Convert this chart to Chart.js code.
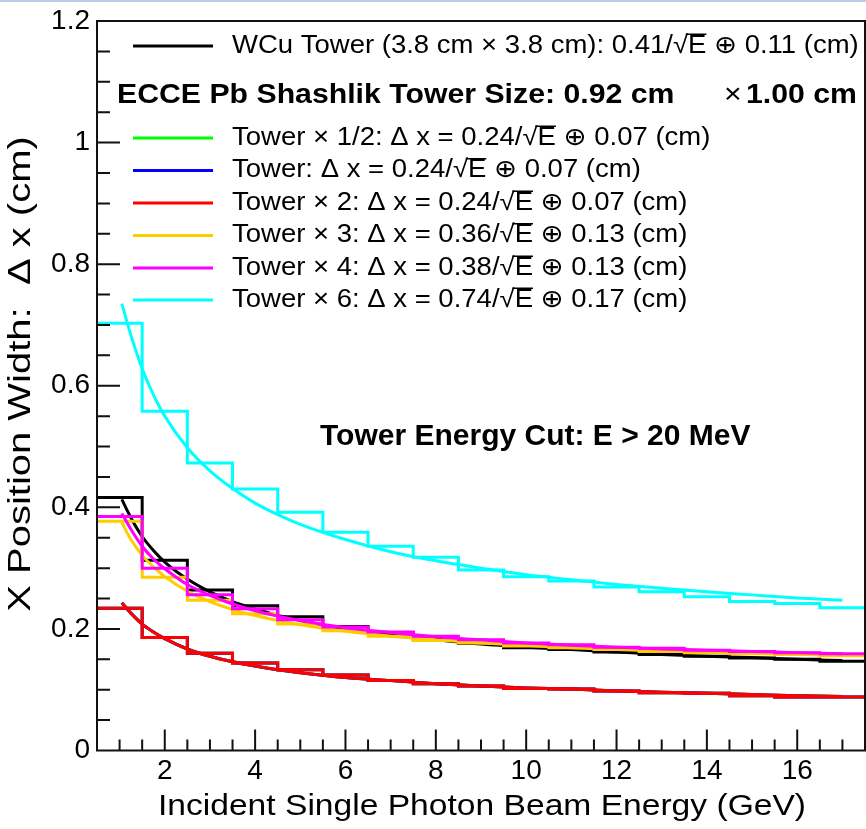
<!DOCTYPE html>
<html>
<head>
<meta charset="utf-8">
<script src="https://cdn.jsdelivr.net/npm/chart.js@4.4.0/dist/chart.umd.min.js"></script>
<style>
  html, body { margin: 0; padding: 0; background: #fff; }
</style>
</head>
<body>
<canvas id="myChart" width="866" height="829"></canvas>
<script>
// bin centres of the energy histograms (GeV), bins are 1 GeV wide
const binCenters = [1, 2, 3, 4, 5, 6, 7, 8, 9, 10, 11, 12, 13, 14, 15, 16, 17];

// histogram contents (cm)
const histWCu     = [0.416, 0.313, 0.264, 0.238, 0.220, 0.204, 0.194, 0.183, 0.176, 0.169, 0.166, 0.162, 0.158, 0.155, 0.152, 0.150, 0.147];
const histHalf    = [0.234, 0.186, 0.160, 0.144, 0.133, 0.124, 0.115, 0.110, 0.106, 0.102, 0.101, 0.098, 0.095, 0.094, 0.090, 0.088, 0.088];
const histTower   = [0.234, 0.186, 0.160, 0.144, 0.133, 0.124, 0.115, 0.110, 0.106, 0.102, 0.101, 0.098, 0.095, 0.094, 0.090, 0.088, 0.088];
const histTimes2  = [0.234, 0.186, 0.160, 0.144, 0.133, 0.124, 0.115, 0.110, 0.106, 0.102, 0.101, 0.098, 0.095, 0.094, 0.090, 0.088, 0.088];
const histTimes3  = [0.377, 0.285, 0.247, 0.225, 0.208, 0.197, 0.188, 0.181, 0.177, 0.172, 0.169, 0.166, 0.163, 0.161, 0.159, 0.158, 0.156];
const histTimes4  = [0.385, 0.300, 0.256, 0.233, 0.215, 0.203, 0.195, 0.188, 0.182, 0.177, 0.174, 0.170, 0.168, 0.165, 0.163, 0.161, 0.159];
const histTimes6  = [0.703, 0.558, 0.473, 0.430, 0.392, 0.359, 0.336, 0.318, 0.297, 0.286, 0.279, 0.269, 0.261, 0.253, 0.245, 0.242, 0.235];

// fit curves, sampled off the plot
const fitEnergy  = [1.05, 1.25, 1.5, 1.75, 2, 2.5, 3, 3.5, 4, 4.5, 5, 6, 7, 8, 9, 10, 11, 12, 13, 14, 15, 16, 17];
const fitWCu     = [0.413, 0.383, 0.352, 0.329, 0.310, 0.282, 0.261, 0.245, 0.233, 0.222, 0.214, 0.200, 0.190, 0.182, 0.175, 0.170, 0.166, 0.162, 0.158, 0.155, 0.153, 0.150, 0.148];
const fitHalf    = [0.243, 0.226, 0.208, 0.195, 0.184, 0.167, 0.155, 0.146, 0.139, 0.133, 0.128, 0.120, 0.115, 0.110, 0.106, 0.103, 0.101, 0.098, 0.096, 0.094, 0.092, 0.090, 0.089];
const fitTower   = [0.243, 0.226, 0.208, 0.195, 0.184, 0.167, 0.155, 0.146, 0.139, 0.133, 0.128, 0.120, 0.115, 0.110, 0.106, 0.103, 0.101, 0.098, 0.096, 0.094, 0.092, 0.090, 0.089];
const fitTimes2  = [0.243, 0.226, 0.208, 0.195, 0.184, 0.167, 0.155, 0.146, 0.139, 0.133, 0.128, 0.120, 0.115, 0.110, 0.106, 0.103, 0.101, 0.098, 0.096, 0.094, 0.092, 0.090, 0.089];
const fitTimes3  = [0.375, 0.347, 0.321, 0.302, 0.286, 0.262, 0.245, 0.232, 0.222, 0.214, 0.207, 0.196, 0.188, 0.182, 0.177, 0.173, 0.169, 0.166, 0.164, 0.162, 0.160, 0.158, 0.157];
const fitTimes4  = [0.390, 0.364, 0.336, 0.315, 0.299, 0.273, 0.255, 0.241, 0.230, 0.221, 0.214, 0.202, 0.194, 0.187, 0.182, 0.177, 0.173, 0.170, 0.167, 0.165, 0.163, 0.161, 0.159];
const fitTimes6  = [0.735, 0.683, 0.628, 0.585, 0.550, 0.498, 0.460, 0.431, 0.407, 0.388, 0.372, 0.347, 0.327, 0.312, 0.300, 0.289, 0.281, 0.273, 0.267, 0.261, 0.256, 0.251, 0.247];

// axes
const xTickValues = [2, 4, 6, 8, 10, 12, 14, 16];
const yTickValues = [0, 0.2, 0.4, 0.6, 0.8, 1.0, 1.2];
const yTickLabels = ['0', '0.2', '0.4', '0.6', '0.8', '1', '1.2'];

const legendLabels = [
    'Tower \u00d7 1/2: \u0394 x = 0.24/\u221aE \u2295 0.07 (cm)',
    'Tower: \u0394 x = 0.24/\u221aE \u2295 0.07 (cm)',
    'Tower \u00d7 2: \u0394 x = 0.24/\u221aE \u2295 0.07 (cm)',
    'Tower \u00d7 3: \u0394 x = 0.36/\u221aE \u2295 0.13 (cm)',
    'Tower \u00d7 4: \u0394 x = 0.38/\u221aE \u2295 0.13 (cm)',
    'Tower \u00d7 6: \u0394 x = 0.74/\u221aE \u2295 0.17 (cm)'
];
const wcuLabel = 'WCu Tower (3.8 cm \u00d7 3.8 cm): 0.41/\u221aE \u2295 0.11 (cm)';

const series = [
    { hist: histWCu,    fit: fitWCu,    color: '#000000' },
    { hist: histHalf,   fit: fitHalf,   color: '#00ff00' },
    { hist: histTower,  fit: fitTower,  color: '#0000ff' },
    { hist: histTimes2, fit: fitTimes2, color: '#ff0000' },
    { hist: histTimes3, fit: fitTimes3, color: '#ffcc00' },
    { hist: histTimes4, fit: fitTimes4, color: '#ff00ff' },
    { hist: histTimes6, fit: fitTimes6, color: '#00ffff' }
];

const FONT = "'Liberation Sans', Arial, 'DejaVu Sans', sans-serif";

// histogram as a stepped line through the bin centres, padded to the bin edges
function histPoints(values) {
    let pts = [{ x: binCenters[0] - 0.5, y: values[0] }];
    binCenters.forEach((c, i) => pts.push({ x: c, y: values[i] }));
    let last = binCenters.length - 1;
    pts.push({ x: binCenters[last] + 0.5, y: values[last] });
    return pts;
}

let datasets = [];
series.forEach((s, i) => {
    let order = series.length - i;
    datasets.push({
        data: histPoints(s.hist),
        borderColor: s.color,
        borderWidth: 3,
        pointRadius: 0,
        stepped: 'middle',
        fill: false,
        order: order
    });
    datasets.push({
        data: fitEnergy.map((e, k) => ({ x: e, y: s.fit[k] })),
        borderColor: s.color,
        borderWidth: 3,
        pointRadius: 0,
        cubicInterpolationMode: 'monotone',
        fill: false,
        order: order
    });
});

// text with a ROOT-like sqrt(E): radical plus an overline over the E
function drawRich(ctx, str, x, y, size, weight, stretch) {
    ctx.save();
    ctx.translate(x, y);
    ctx.scale(stretch, 1);
    ctx.font = weight + ' ' + size + 'px ' + FONT;
    ctx.textBaseline = 'middle';
    ctx.textAlign = 'left';
    ctx.fillStyle = '#000';
    let parts = str.split('\u221aE');
    let cx = 0;
    parts.forEach((p, i) => {
        ctx.fillText(p, cx, 0);
        cx += ctx.measureText(p).width;
        if (i < parts.length - 1) {
            let wr = ctx.measureText('\u221a').width;
            let we = ctx.measureText('E').width;
            ctx.fillText('\u221a', cx, 0);
            ctx.fillText('E', cx + wr, 0);
            ctx.beginPath();
            ctx.strokeStyle = '#000';
            ctx.lineWidth = 1.5;
            ctx.moveTo(cx + wr * 0.85, -size * 0.47);
            ctx.lineTo(cx + wr + we, -size * 0.47);
            ctx.stroke();
            cx += wr + we;
        }
    });
    ctx.restore();
}

const rootStyle = {
    id: 'rootStyle',
    afterDatasetsDraw(chart) {
        const { ctx, chartArea: a, scales: { x, y } } = chart;
        ctx.save();
        ctx.strokeStyle = '#111';
        ctx.lineWidth = 2;
        ctx.beginPath();
        // x ticks every 0.5 GeV, inside the frame
        for (let i = 2; i <= 34; i++) {
            let px = x.getPixelForValue(i * 0.5);
            let len = (i % 4 === 0) ? 21 : 11;
            ctx.moveTo(px, a.bottom);
            ctx.lineTo(px, a.bottom - len);
        }
        // y ticks every 0.05 cm
        for (let k = 1; k <= 23; k++) {
            let py = y.getPixelForValue(k * 0.05);
            let len = (k % 4 === 0) ? 23 : 13;
            ctx.moveTo(a.left, py);
            ctx.lineTo(a.left + len, py);
        }
        ctx.stroke();
        ctx.strokeRect(a.left, a.top, a.right - a.left, a.bottom - a.top);
        ctx.restore();
    },
    afterDraw(chart) {
        const { ctx } = chart;
        ctx.save();
        // screenshot border at the top
        ctx.strokeStyle = '#b9cde6';
        ctx.lineWidth = 2;
        ctx.beginPath();
        ctx.moveTo(0, 1);
        ctx.lineTo(chart.width, 1);
        ctx.stroke();

        // legend
        ctx.lineWidth = 3;
        ctx.strokeStyle = '#000';
        ctx.beginPath();
        ctx.moveTo(133, 46);
        ctx.lineTo(213, 46);
        ctx.stroke();
        drawRich(ctx, wcuLabel, 232, 46, 25, 'normal', 1.1);

        drawRich(ctx, 'ECCE Pb Shashlik Tower Size: 0.92 cm', 117, 95, 28, 'bold', 1.08);
        drawRich(ctx, '\u00d7', 724, 95, 28, 'normal', 1.08);
        drawRich(ctx, '1.00 cm', 746, 95, 28, 'bold', 1.08);

        const rowY = [138, 170.5, 203, 235.5, 268, 300];
        legendLabels.forEach((lab, i) => {
            ctx.strokeStyle = series[i + 1].color;
            ctx.lineWidth = 3;
            ctx.beginPath();
            ctx.moveTo(133, rowY[i]);
            ctx.lineTo(213, rowY[i]);
            ctx.stroke();
            drawRich(ctx, lab, 232, rowY[i], 25, 'normal', 1.1);
        });

        drawRich(ctx, 'Tower Energy Cut: E > 20 MeV', 320, 437, 30, 'bold', 1.0);

        // axis titles
        ctx.fillStyle = '#000';
        ctx.textBaseline = 'middle';
        ctx.textAlign = 'center';
        ctx.save();
        ctx.translate(482, 807);
        ctx.scale(1.12, 1);
        ctx.font = '30px ' + FONT;
        ctx.fillText('Incident Single Photon Beam Energy (GeV)', 0, 0);
        ctx.restore();

        ctx.save();
        ctx.translate(21, 374);
        ctx.rotate(-Math.PI / 2);
        ctx.scale(1.29, 1);
        ctx.font = '31px ' + FONT;
        ctx.fillText('X Position Width:  \u0394 x (cm)', 0, 0);
        ctx.restore();

        ctx.restore();
    }
};

let config = {
    type: 'line',
    data: { datasets: datasets },
    options: {
        responsive: false,
        animation: false,
        layout: { padding: { left: 0, top: 15, right: 1, bottom: 0 } },
        plugins: {
            legend: { display: false },
            tooltip: { enabled: false }
        },
        scales: {
            x: {
                type: 'linear',
                min: 0.5,
                max: 17.5,
                grid: { display: false, drawTicks: false },
                border: { display: false },
                afterBuildTicks: (scale) => { scale.ticks = xTickValues.map(v => ({ value: v })); },
                afterFit: (scale) => { scale.height = 78.5; },
                ticks: {
                    color: '#000',
                    padding: 7,
                    maxRotation: 0,
                    font: { family: FONT, size: 28, lineHeight: 1 },
                    callback: (v) => String(v)
                }
            },
            y: {
                type: 'linear',
                min: 0,
                max: 1.2,
                grid: { display: false, drawTicks: false },
                border: { display: false },
                afterBuildTicks: (scale) => { scale.ticks = yTickValues.map(v => ({ value: v })); },
                afterFit: (scale) => { scale.width = 97; },
                ticks: {
                    color: '#000',
                    padding: 7,
                    font: { family: FONT, size: 28, lineHeight: 1 },
                    callback: (v, i) => yTickLabels[i]
                }
            }
        }
    },
    plugins: [rootStyle]
};

let myChart = new Chart(document.getElementById('myChart'), config);
</script>
</body>
</html>
